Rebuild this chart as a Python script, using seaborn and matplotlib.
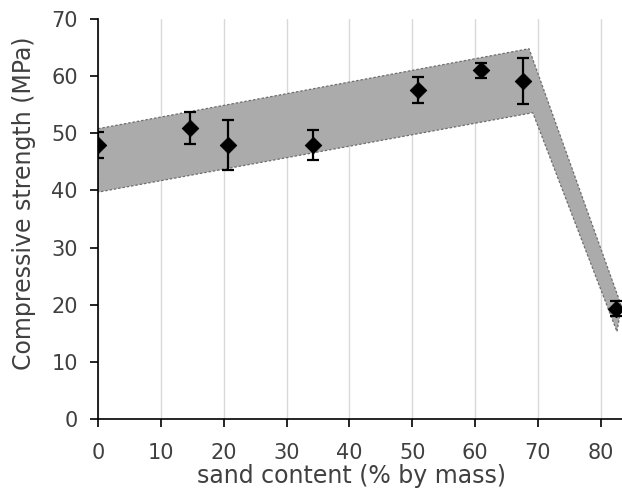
import matplotlib
matplotlib.use("Agg")
import matplotlib.pyplot as plt
import seaborn as sns
import pandas as pd

# Measured points
sand = [0.0, 14.7, 20.7, 34.2, 50.9, 61.0, 67.6, 82.4]
strength = [48.0, 50.9, 48.0, 47.9, 57.6, 61.0, 59.2, 19.3]
err = [2.3, 2.85, 4.4, 2.6, 2.25, 1.3, 4.0, 1.3]

# Envelope band (upper and lower edges)
band_upper_x = [0.0, 68.6, 83.3]
band_upper_y = [50.8, 64.8, 19.8]
band_lower_x = [0.0, 69.2, 82.6]
band_lower_y = [39.7, 53.6, 15.3]

x_ticks = [0, 10, 20, 30, 40, 50, 60, 70, 80]
y_ticks = [0, 10, 20, 30, 40, 50, 60, 70]

sns.set_style("white")
plt.rcParams['font.family'] = ['DejaVu Sans']

fig = plt.figure(figsize=(6.22, 4.93), dpi=100)
ax = fig.add_axes([0.1576, 0.150, 0.8424, 0.8115])

# band polygon
poly_x = band_upper_x + band_lower_x[::-1]
poly_y = band_upper_y + band_lower_y[::-1]
ax.fill(poly_x, poly_y, facecolor="#ababab", edgecolor="#6e6e6e",
        linestyle=(0, (2, 1.5)), linewidth=0.9, zorder=2)

df = pd.DataFrame({"sand": sand, "strength": strength, "err": err})
ax.errorbar(df["sand"], df["strength"], yerr=df["err"], fmt="none",
            ecolor="black", elinewidth=1.6, capsize=4.5, capthick=1.6, zorder=3)
sns.scatterplot(data=df, x="sand", y="strength", marker="D", s=70,
                color="black", edgecolor="black", ax=ax, zorder=4, legend=False)

ax.set_xlim(0, 83.4)
ax.set_ylim(0, 70)
ax.set_xticks(x_ticks)
ax.set_yticks(y_ticks)
ax.xaxis.grid(True, color="#d9d9d9", linewidth=1.0)
ax.yaxis.grid(False)
ax.set_axisbelow(True)

for s in ["top", "right"]:
    ax.spines[s].set_visible(False)
for s in ["left", "bottom"]:
    ax.spines[s].set_color("black")
    ax.spines[s].set_linewidth(1.2)

ax.tick_params(axis="both", direction="out", length=5.5, width=1.2, color="black",
               labelsize=15, labelcolor="#404040", bottom=True, left=True)
ax.tick_params(axis="x", pad=12)
ax.tick_params(axis="y", pad=9)

ax.set_xlabel("sand content (% by mass)", fontsize=17, color="#404040", labelpad=0)
ax.set_ylabel("Compressive strength (MPa)", fontsize=17, color="#404040", labelpad=8)
ax.xaxis.set_label_coords(0.483, -0.112)
ax.yaxis.set_label_coords(-0.118, 0.54)

fig.savefig("out.png", dpi=100)
